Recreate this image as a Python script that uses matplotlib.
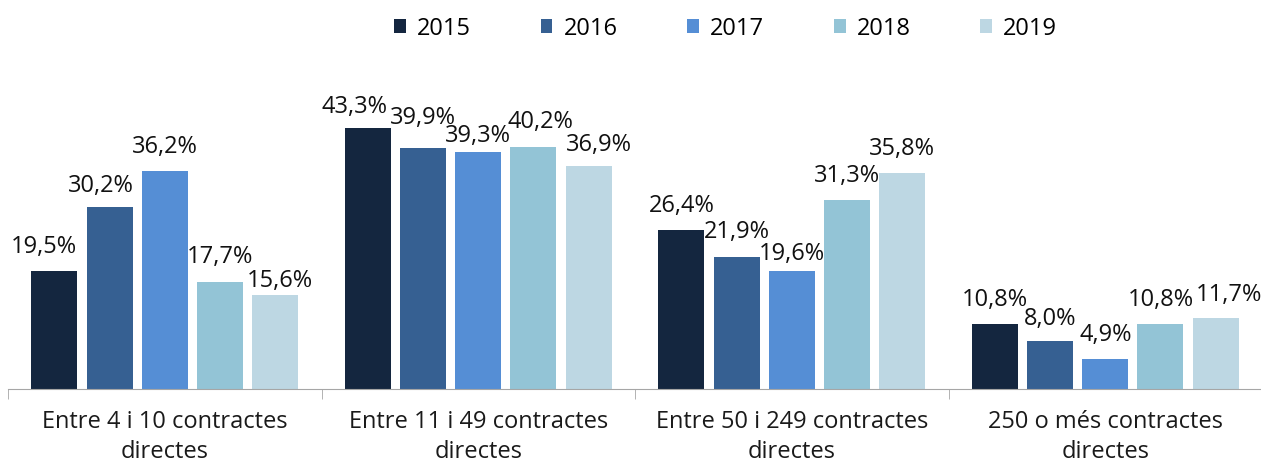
import numpy as np
from matplotlib import pyplot as plt

plt.rcParams['font.family'] = ['Open Sans', 'DejaVu Sans']

categories = ["Entre 4 i 10 contractes\ndirectes", "Entre 11 i 49 contractes\ndirectes",
              "Entre 50 i 249 contractes\ndirectes", "250 o més contractes\ndirectes"]
years = ["2015", "2016", "2017", "2018", "2019"]
v2015 = [19.5, 43.3, 26.4, 10.8]
v2016 = [30.2, 39.9, 21.9, 8.0]
v2017 = [36.2, 39.3, 19.6, 4.9]
v2018 = [17.7, 40.2, 31.3, 10.8]
v2019 = [15.6, 36.9, 35.8, 11.7]
series = [v2015, v2016, v2017, v2018, v2019]
colors = ["#14263f", "#366092", "#558ed5", "#93c4d6", "#bdd7e3"]

# label nudges in pixels (like the hand-moved labels in the original), per year x category
lab_dx = [[-11, -13, 0, 0],
          [-9, 0, 0, 0],
          [0, 0, 0, 0],
          [0, 7, 0, 0],
          [5, 10, 0, 13]]
lab_dy = [[18, 15, 18, 18],
          [15, 24, 19, 16],
          [18, 10, 11, 18],
          [19, 19, 18, 18],
          [8, 15, 18, 17]]

fig = plt.figure(figsize=(12.61, 4.66), dpi=100)
ax = fig.add_axes([8/1261, 77/466, 1254/1261, 301.5/466])

x = np.arange(len(categories))
step = 0.176
width = 0.147
for i, (vals, yr, col) in enumerate(zip(series, years, colors)):
    pos = x + (i - 2) * step
    ax.bar(pos, vals, width, color=col, label=yr)
    for j, (p, v) in enumerate(zip(pos, vals)):
        ax.annotate(("%.1f%%" % v).replace(".", ","), (p, v),
                    xytext=(lab_dx[i][j], lab_dy[i][j]), textcoords="offset pixels",
                    ha="center", va="baseline", fontsize=17, color="#111111")

ax.set_xlim(-0.5, len(categories) - 0.5)
ax.set_ylim(0, 50)
ax.set_yticks([])
for s in ["top", "right", "left"]:
    ax.spines[s].set_visible(False)
ax.spines["bottom"].set_color("#a6a6a6")
ax.set_xticks(x)
ax.set_xticklabels(categories, fontsize=17, color="#1a1a1a", linespacing=1.35)
ax.tick_params(axis="x", length=0, pad=15)
ax.set_xticks(np.arange(len(categories) + 1) - 0.5, minor=True)
ax.tick_params(axis="x", which="minor", length=7, color="#a6a6a6")

fig.legend(loc="upper center", bbox_to_anchor=(0.5755, 1.01), ncol=5, frameon=False,
           fontsize=17, handlelength=0.5, handleheight=0.5, columnspacing=2.95,
           handletextpad=0.47)

fig.savefig("out.png")
